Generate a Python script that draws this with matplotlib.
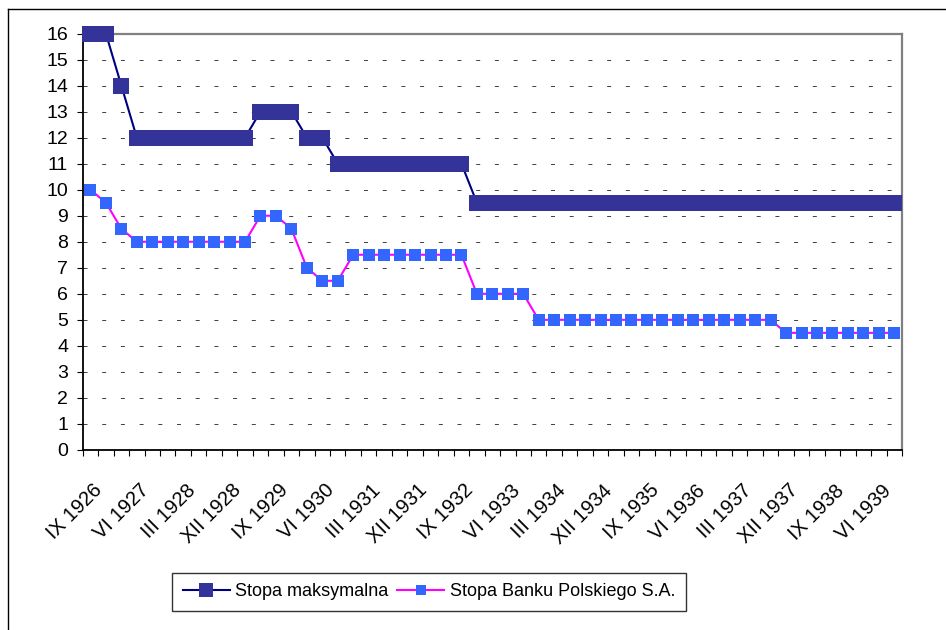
import matplotlib
matplotlib.use("Agg")
import matplotlib.pyplot as plt
import matplotlib.transforms as mtransforms
from matplotlib.lines import Line2D
import numpy as np

plt.rcParams['font.family'] = ['Liberation Sans', 'DejaVu Sans']

# quarterly observations, IX 1926 .. IX 1939
months = ["IX", "XII", "III", "VI"]
periods = []
year = 1926
for k in range(53):
    m = months[k % 4]
    if m == "III":
        year += 1
    periods.append(f"{m} {year}")

stopa_maks = ([16, 16, 14] + [12] * 8 + [13] * 3 + [12] * 2 + [11] * 9 + [9.5] * 28)
stopa_bp = ([10, 9.5, 8.5] + [8] * 8 + [9] * 2 + [8.5, 7] + [6.5] * 2 + [7.5] * 8
            + [6] * 4 + [5] * 16 + [4.5] * 8)

x = np.arange(len(periods))

W, H = 946, 630
fig = plt.figure(figsize=(W / 100, H / 100), dpi=100)
ax = fig.add_axes([82.7 / W, 1 - 450 / H, (902 - 82.7) / W, (450 - 33.5) / H])

ax.set_xlim(-0.5, len(periods) - 0.5)
ax.set_ylim(0, 16)

# dashed horizontal grid
for v in range(1, 16):
    ax.axhline(v, color='#444444', lw=0.72, linestyle=(0, (4, 14.7)), zorder=1)

ax.plot(x, stopa_maks, color='#000080', lw=1.5, marker='s', ms=12.2,
        mfc='#333399', mec='#333399', mew=0, clip_on=False, zorder=4)
ax.plot(x, stopa_bp, color='#FF00FF', lw=1.5, marker='s', ms=8.4,
        mfc='#3366FF', mec='#3366FF', mew=0, clip_on=False, zorder=4)

# spines
for s in ['top', 'right']:
    ax.spines[s].set_color('#808080')
    ax.spines[s].set_linewidth(1.6)
for s in ['left', 'bottom']:
    ax.spines[s].set_color('black')
    ax.spines[s].set_linewidth(1.3)

ax.set_yticks(range(0, 17))
ax.tick_params(axis='y', direction='out', length=4.5, width=0.8, pad=6, labelsize=14)

# ticks between categories, labels on every third category
ax.set_xticks(np.arange(-0.5, len(periods)), minor=True)
ax.set_xticks(x[::3])
ax.set_xticklabels([periods[i] for i in x[::3]])
ax.tick_params(axis='x', which='minor', direction='out', length=4.5, width=0.8)
ax.tick_params(axis='x', which='major', length=0, pad=27, labelsize=14.5)
offset = mtransforms.ScaledTranslation(0.09, 0, fig.dpi_scale_trans)
for lab in ax.get_xticklabels():
    lab.set_rotation(45)
    lab.set_ha('right')
    lab.set_va('center')
    lab.set_rotation_mode('anchor')
    lab.set_transform(lab.get_transform() + offset)

handles = [
    Line2D([], [], color='#000080', lw=1.5, marker='s', ms=10,
           mfc='#333399', mec='#333399', mew=0),
    Line2D([], [], color='#FF00FF', lw=1.5, marker='s', ms=6.5,
           mfc='#3366FF', mec='#3366FF', mew=0),
]
leg = fig.legend(handles, ['Stopa maksymalna', 'Stopa Banku Polskiego S.A.'],
                 loc='center', bbox_to_anchor=(429 / W, 1 - 592 / H), ncol=2,
                 fontsize=13, frameon=True, fancybox=False, handlelength=2.6,
                 handletextpad=0.3, columnspacing=0.5, borderpad=0.6,
                 borderaxespad=0)
leg.get_frame().set_edgecolor('black')
leg.get_frame().set_linewidth(1.0)

# outer chart frame (top and left edges)
fig.add_artist(Line2D([8 / W, 1], [1 - 9 / H, 1 - 9 / H], color='black', lw=1.0))
fig.add_artist(Line2D([8 / W, 8 / W], [0, 1 - 9 / H], color='black', lw=1.0))

fig.savefig('out.png', dpi=100)
